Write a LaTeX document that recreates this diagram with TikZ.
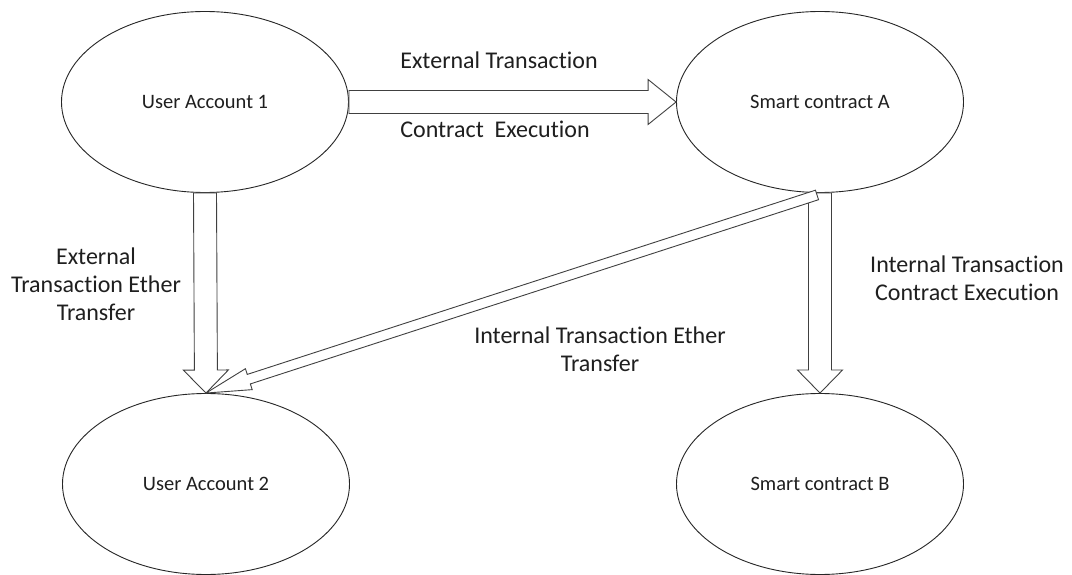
\documentclass[tikz,border=0pt]{standalone}
\usepackage{fontspec}
\setmainfont{Carlito}[Ligatures=NoCommon]
\usetikzlibrary{calc,shapes.geometric}

% Block (outlined) arrow from #2 to #3:
% #4 = half width of the shaft, #5 = half width of the head, #6 = head length
\newcommand\blockarrow[6][]{%
  \draw[fatarrow,#1]
    ($(#2)!#4!90:(#3)$)
    -- ($(#3)!#6!(#2)!#4!-90:(#2)$)
    -- ($(#3)!#6!(#2)!#5!-90:(#2)$)
    -- (#3)
    -- ($(#3)!#6!(#2)!#5!90:(#2)$)
    -- ($(#3)!#6!(#2)!#4!90:(#2)$)
    -- ($(#2)!#4!-90:(#3)$)
    -- cycle;}

\tikzset{
  state/.style={ellipse, draw=black!85, line width=0.9bp, fill=white,
    minimum width=287bp, minimum height=181bp, inner sep=0pt,
    font=\fontsize{20.5bp}{24bp}\selectfont, text=black!88},
  fatarrow/.style={draw=black!75, fill=white, line width=0.9bp, line join=miter},
  lbl/.style={font=\fontsize{24bp}{28bp}\selectfont, text=black!88, align=center},
}

\begin{document}
\begin{tikzpicture}[x=1bp, y=-1bp]
  \useasboundingbox (0,0) rectangle (1072,575);
  \fill[white] (0,0) rectangle (1072,575);

  % accounts and contracts
  \node[state] (ua1) at (205,102) {User Account 1};
  \node[state] (sca) at (820,102) {Smart contract A};
  \node[state] (ua2) at (206,484) {User Account 2};
  \node[state] (scb) at (820,484) {Smart contract B};

  \coordinate (dtail) at ([shift={(-3,2)}]sca.south);

  % transactions
  \blockarrow{ua1.east}{sca.west}{11.5bp}{22.5bp}{28bp}
  \blockarrow{ua1.south}{ua2.north}{11.5bp}{22.5bp}{23bp}
  \blockarrow{sca.south}{scb.north}{11.5bp}{22.5bp}{23bp}
  \blockarrow{dtail}{ua2.north}{5bp}{11bp}{45bp}

  % labels
  \node[lbl, anchor=base] (l1) at (499,69) {External Transaction};
  \node[lbl, anchor=base] (l2) at (495,138) {Contract\ \ Execution};
  \node[lbl] (l3) at (96,284) {External\\Transaction Ether\\Transfer};
  \node[lbl] (l4) at (967,278) {Internal Transaction\\Contract Execution};
  \node[lbl] (l5) at (600,349) {Internal Transaction Ether\\Transfer};
\end{tikzpicture}
\end{document}
